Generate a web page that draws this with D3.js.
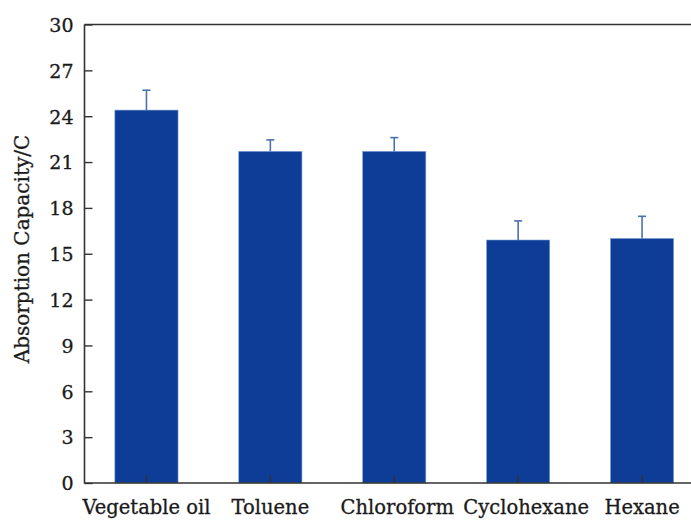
<!DOCTYPE html>
<html>
<head>
<meta charset="utf-8">
<script src="https://cdn.jsdelivr.net/npm/d3@7"></script>
<style>
  body { margin: 0; background: #fff; }
  svg text { font-family: "DejaVu Serif", "Liberation Serif", serif; fill: #1a1a1a; stroke: #1a1a1a; stroke-width: 0.3px; }
</style>
</head>
<body>
<svg id="canvas" width="691" height="520"></svg>
<script>
// Data
const categories = ['Vegetable oil', 'Toluene', 'Chloroform', 'Cyclohexane', 'Hexane'];
const values = [24.4, 21.7, 21.7, 15.9, 16.0];
const errors = [1.3, 0.75, 0.9, 1.25, 1.45];
const yTicks = [0, 3, 6, 9, 12, 15, 18, 21, 24, 27, 30];

const svg = d3.select('#canvas');
const plotLeft = 84.5, plotRight = 704, plotTop = 24.5, plotBottom = 483;

const x = d3.scaleBand()
    .domain(categories)
    .range([plotLeft, plotRight])
    .paddingInner(0.49)
    .paddingOuter(0.245);

const y = d3.scaleLinear()
    .domain([0, 30])
    .range([plotBottom, plotTop]);

const rows = categories.map((c, i) => ({ name: c, value: values[i], err: errors[i] }));

// Bars
svg.append('g').selectAll('rect')
    .data(rows)
    .enter()
    .append('rect')
    .attr('x', d => x(d.name))
    .attr('y', d => y(d.value))
    .attr('width', x.bandwidth())
    .attr('height', d => y(0) - y(d.value))
    .attr('fill', '#0d3d97')
    .attr('stroke', '#7fa3d6')
    .attr('stroke-width', 0.6);

// Error bars (upper only)
const eb = svg.append('g').attr('stroke', '#4a72ab').attr('stroke-width', 1.6);
eb.selectAll('line.v')
    .data(rows)
    .enter()
    .append('line')
    .attr('x1', d => x(d.name) + x.bandwidth() / 2)
    .attr('x2', d => x(d.name) + x.bandwidth() / 2)
    .attr('y1', d => y(d.value))
    .attr('y2', d => y(d.value + d.err));
eb.selectAll('line.cap')
    .data(rows)
    .enter()
    .append('line')
    .attr('x1', d => x(d.name) + x.bandwidth() / 2 - 4)
    .attr('x2', d => x(d.name) + x.bandwidth() / 2 + 4)
    .attr('y1', d => y(d.value + d.err))
    .attr('y2', d => y(d.value + d.err));

// Frame
svg.append('path')
    .attr('d', `M${plotLeft},${plotTop}H${plotRight}M${plotLeft},${plotTop}V${plotBottom}H${plotRight}`)
    .attr('fill', 'none')
    .attr('stroke', '#333')
    .attr('stroke-width', 1.6);

// Y axis
const yAxis = svg.append('g')
    .attr('transform', `translate(${plotLeft},0)`)
    .call(d3.axisRight(y).tickValues(yTicks).tickSize(8).tickFormat(d3.format('d')));
yAxis.select('.domain').remove();
yAxis.selectAll('line').attr('stroke', '#333').attr('stroke-width', 1.4);
yAxis.selectAll('text')
    .attr('x', -11)
    .attr('text-anchor', 'end')
    .attr('dy', '0.36em')
    .style('font-size', '19px');

// X axis
const xAxis = svg.append('g')
    .attr('transform', `translate(0,${plotBottom})`)
    .call(d3.axisTop(x).tickSize(8));
xAxis.select('.domain').remove();
xAxis.selectAll('line').attr('stroke', '#333').attr('stroke-width', 1.4);
// the original nudges the Cyclohexane label a little to the right
xAxis.selectAll('text')
    .attr('y', 31)
    .attr('dy', '0')
    .attr('dx', d => d === 'Cyclohexane' ? 8 : (d === 'Chloroform' ? 3 : 0))
    .style('font-size', '19.5px');

// Y title
svg.append('text')
    .attr('transform', `translate(29,249) rotate(-90)`)
    .attr('text-anchor', 'middle')
    .style('font-size', '20px')
    .text('Absorption Capacity/C');
</script>
</body>
</html>
